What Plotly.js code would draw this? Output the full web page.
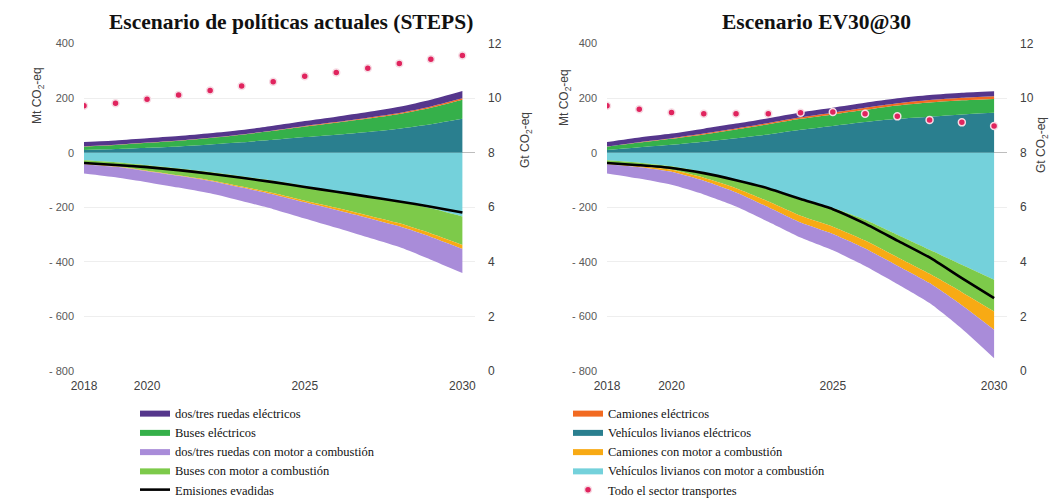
<!DOCTYPE html>
<html>
<head>
<meta charset="utf-8">
<script src="https://cdn.plot.ly/plotly-3.0.1.min.js"></script>
<style>
  html, body { margin: 0; padding: 0; background: #ffffff; }
  #chart { width: 1051px; height: 499px; }
</style>
</head>
<body>
<div id="chart"></div>
<script>
// Años del horizonte de proyección
const years = [2018, 2019, 2020, 2021, 2022, 2023, 2024, 2025, 2026, 2027, 2028, 2029, 2030];

// Escenario de políticas actuales (STEPS), Mt CO2-eq
const stepsLightEv    = [10, 13, 18, 23, 30, 38, 47, 57, 66, 76, 88, 104, 124];
const stepsBusEv      = [12, 15, 18, 21, 24, 28, 33, 39, 44, 49, 54, 61, 70];
const stepsTruckEv    = [1, 1, 1, 1, 1, 1, 1.5, 2, 2, 3, 3, 4, 5];
const stepsTwoWheelEv = [16, 16, 16, 16, 16, 16, 17, 18, 20, 21, 23, 25, 27];
const stepsLightIce    = [-28, -35, -46, -58, -71, -87, -103, -122, -140, -158, -178, -204, -234];
const stepsBusIce      = [-12, -15, -20, -25, -30, -37, -45, -54, -62, -72, -81, -92, -104];
const stepsTruckIce    = [-2, -2, -2, -2, -3, -4, -5, -6, -8, -9, -11, -13, -15];
const stepsTwoWheelIce = [-34, -38, -40, -43, -45, -49, -54, -59, -65, -71, -76, -83, -88];
const stepsAvoided     = [-38, -45, -53, -64, -77, -92, -108, -126, -143, -161, -179, -198, -219];
// Todo el sector transportes, Gt CO2-eq
const stepsTransport   = [9.72, 9.81, 9.96, 10.11, 10.28, 10.44, 10.60, 10.80, 10.94, 11.09, 11.27, 11.42, 11.56];

// Escenario EV30@30, Mt CO2-eq
const evLightEv    = [10, 20, 29, 40, 53, 67, 84, 98, 112, 124, 132, 140, 146];
const evBusEv      = [12, 17, 22, 27, 32, 37, 40, 42, 45, 49, 52, 52, 51];
const evTruckEv    = [1, 1.5, 2, 3, 3.5, 4.5, 5.5, 6.5, 7.5, 8, 9, 9.5, 10];
const evTwoWheelEv = [16, 17, 17, 18, 18, 18, 18, 18, 18, 18, 18, 18, 18];
const evLightIce    = [-28, -37, -50, -72, -99, -134, -172, -203, -246, -301, -356, -411, -466];
const evBusIce      = [-12, -12, -13, -20, -31, -45, -59, -68, -76, -82, -88, -100, -116];
const evTruckIce    = [-2, -4, -7, -11, -16, -21, -25, -27, -29, -31, -34, -48, -67];
const evTwoWheelIce = [-34, -42, -48, -50, -51, -53, -55, -60, -64, -67, -73, -86, -104];
const evAvoided     = [-38, -46, -56, -75, -101, -131, -170, -207, -260, -322, -384, -460, -533];
const evTransport   = [9.72, 9.59, 9.47, 9.43, 9.43, 9.43, 9.46, 9.49, 9.43, 9.33, 9.20, 9.11, 8.98];

// Nombres de las series
const names = {
  twoWheelEv: 'dos/tres ruedas eléctricos',
  busEv: 'Buses eléctricos',
  twoWheelIce: 'dos/tres ruedas con motor a combustión',
  busIce: 'Buses con motor a combustión',
  avoided: 'Emisiones evadidas',
  truckEv: 'Camiones eléctricos',
  lightEv: 'Vehículos livianos eléctricos',
  truckIce: 'Camiones con motor a combustión',
  lightIce: 'Vehículos livianos con motor a combustión',
  transport: 'Todo el sector transportes'
};

const colors = {
  twoWheelEv: '#55368c',
  busEv: '#35b04a',
  truckEv: '#f26a21',
  lightEv: '#2a7f8f',
  twoWheelIce: '#a98cd9',
  busIce: '#7dca4a',
  truckIce: '#f8aa14',
  lightIce: '#74d1db',
  avoided: '#000000',
  transport: '#e0245e'
};

// Leyenda en la que aparece cada serie y su posición
const legendOf = {
  twoWheelEv: ['legend', 1], busEv: ['legend', 2], twoWheelIce: ['legend', 3],
  busIce: ['legend', 4], avoided: ['legend', 5],
  truckEv: ['legend2', 1], lightEv: ['legend2', 2], truckIce: ['legend2', 3],
  lightIce: ['legend2', 4], transport: ['legend2', 5]
};

function area(key, y, group, xa, ya, show) {
  return {
    type: 'scatter', mode: 'lines', x: years, y: y,
    name: names[key], stackgroup: group, fillcolor: colors[key],
    line: { color: colors[key], width: 0, shape: 'spline', smoothing: 0.6 },
    xaxis: xa, yaxis: ya, hoverinfo: 'skip',
    showlegend: show, legend: legendOf[key][0], legendrank: legendOf[key][1]
  };
}

function scenario(d, xa, ya, ya2, tag, show) {
  return [
    area('lightEv', d.lightEv, 'pos' + tag, xa, ya, show),
    area('busEv', d.busEv, 'pos' + tag, xa, ya, show),
    area('truckEv', d.truckEv, 'pos' + tag, xa, ya, show),
    area('twoWheelEv', d.twoWheelEv, 'pos' + tag, xa, ya, show),
    area('lightIce', d.lightIce, 'neg' + tag, xa, ya, show),
    area('busIce', d.busIce, 'neg' + tag, xa, ya, show),
    area('truckIce', d.truckIce, 'neg' + tag, xa, ya, show),
    area('twoWheelIce', d.twoWheelIce, 'neg' + tag, xa, ya, show),
    {
      type: 'scatter', mode: 'lines', x: years, y: d.avoided, name: names.avoided,
      line: { color: colors.avoided, width: 2.6, shape: 'spline', smoothing: 0.6 },
      xaxis: xa, yaxis: ya, hoverinfo: 'skip',
      showlegend: show, legend: 'legend', legendrank: 5
    },
    {
      type: 'scatter', mode: 'markers', x: years, y: d.transport, name: names.transport,
      marker: { color: colors.transport, size: 7, line: { color: '#f6dce4', width: 1.5 } },
      xaxis: xa, yaxis: ya2, hoverinfo: 'skip',
      showlegend: show, legend: 'legend2', legendrank: 5
    }
  ];
}

const data = [].concat(
  scenario({
    lightEv: stepsLightEv, busEv: stepsBusEv, truckEv: stepsTruckEv, twoWheelEv: stepsTwoWheelEv,
    lightIce: stepsLightIce, busIce: stepsBusIce, truckIce: stepsTruckIce, twoWheelIce: stepsTwoWheelIce,
    avoided: stepsAvoided, transport: stepsTransport
  }, 'x', 'y', 'y2', 'A', true),
  scenario({
    lightEv: evLightEv, busEv: evBusEv, truckEv: evTruckEv, twoWheelEv: evTwoWheelEv,
    lightIce: evLightIce, busIce: evBusIce, truckIce: evTruckIce, twoWheelIce: evTwoWheelIce,
    avoided: evAvoided, transport: evTransport
  }, 'x2', 'y3', 'y4', 'B', false)
);

const W = 1051, H = 499;
const px = v => v / W;
const py = v => 1 - v / H;

const mtTicks = [-800, -600, -400, -200, 0, 200, 400];
const mtLabels = ['- 800', '- 600', '- 400', '- 200', '0', '200', '400'];
const gtTicks = [0, 2, 4, 6, 8, 10, 12];
const yearTicks = [2018, 2020, 2025, 2030];

const sans = 'Liberation Sans, Arial, sans-serif';
const serif = 'Liberation Serif, Times New Roman, serif';

function xAxis(domain) {
  return {
    domain: domain, range: [2018, 2030.4], showgrid: false, zeroline: false,
    showline: false, ticks: '', tickvals: yearTicks, ticktext: yearTicks.map(String),
    tickfont: { family: sans, size: 12, color: '#404040' }, ticklabelstandoff: 6,
    fixedrange: true
  };
}
function mtAxis(anchor) {
  return {
    anchor: anchor, domain: [py(371), py(43.5)], range: [-800, 400],
    tickvals: mtTicks, ticktext: mtLabels, ticks: '',
    tickfont: { family: sans, size: 11, color: '#595959' }, ticklabelstandoff: 9,
    showgrid: true, gridcolor: '#eeeeee', gridwidth: 1,
    zeroline: true, zerolinecolor: '#bdbdbd', zerolinewidth: 1,
    showline: false, fixedrange: true
  };
}
function gtAxis(anchor, over) {
  return {
    anchor: anchor, overlaying: over, side: 'right', range: [0, 12],
    tickvals: gtTicks, ticktext: gtTicks.map(String), ticks: '',
    tickfont: { family: sans, size: 12, color: '#404040' }, ticklabelstandoff: 12,
    showgrid: false, zeroline: false, showline: false, fixedrange: true
  };
}

function unitLabel(text, x, y) {
  return {
    xref: 'paper', yref: 'paper', x: px(x), y: py(y), text: text, textangle: -90,
    showarrow: false, xanchor: 'center', yanchor: 'middle',
    font: { family: sans, size: 12, color: '#404040' }
  };
}
function title(text, x) {
  return {
    xref: 'paper', yref: 'paper', x: px(x), y: py(22), text: '<b>' + text + '</b>',
    showarrow: false, xanchor: 'center', yanchor: 'middle',
    font: { family: serif, size: 21.5, color: '#111111' }
  };
}

const legendFont = { family: serif, size: 12.5, color: '#111111' };

const layout = {
  width: W, height: H,
  margin: { l: 0, r: 0, t: 0, b: 0, autoexpand: false },
  paper_bgcolor: '#ffffff', plot_bgcolor: 'rgba(0,0,0,0)',
  xaxis: xAxis([px(84), px(475)]),
  yaxis: mtAxis('x'),
  yaxis2: gtAxis('x', 'y'),
  xaxis2: xAxis([px(607), px(1007)]),
  yaxis3: mtAxis('x2'),
  yaxis4: gtAxis('x2', 'y3'),
  legend: {
    x: px(135), y: py(398), xanchor: 'left', yanchor: 'top',
    traceorder: 'normal', bgcolor: 'rgba(0,0,0,0)', itemwidth: 30, font: legendFont
  },
  legend2: {
    x: px(568), y: py(398), xanchor: 'left', yanchor: 'top',
    traceorder: 'normal', bgcolor: 'rgba(0,0,0,0)', itemwidth: 30, font: legendFont
  },
  annotations: [
    title('Escenario de políticas actuales (STEPS)', 291),
    title('Escenario EV30@30', 816),
    unitLabel('Mt CO<sub>2</sub>-eq', 38, 96),
    unitLabel('Gt CO<sub>2</sub>-eq', 526, 140),
    unitLabel('Mt CO<sub>2</sub>-eq', 565, 98),
    unitLabel('Gt CO<sub>2</sub>-eq', 1042, 145)
  ],
  showlegend: true
};

Plotly.newPlot('chart', data, layout, { displayModeBar: false, staticPlot: true });
</script>
</body>
</html>
